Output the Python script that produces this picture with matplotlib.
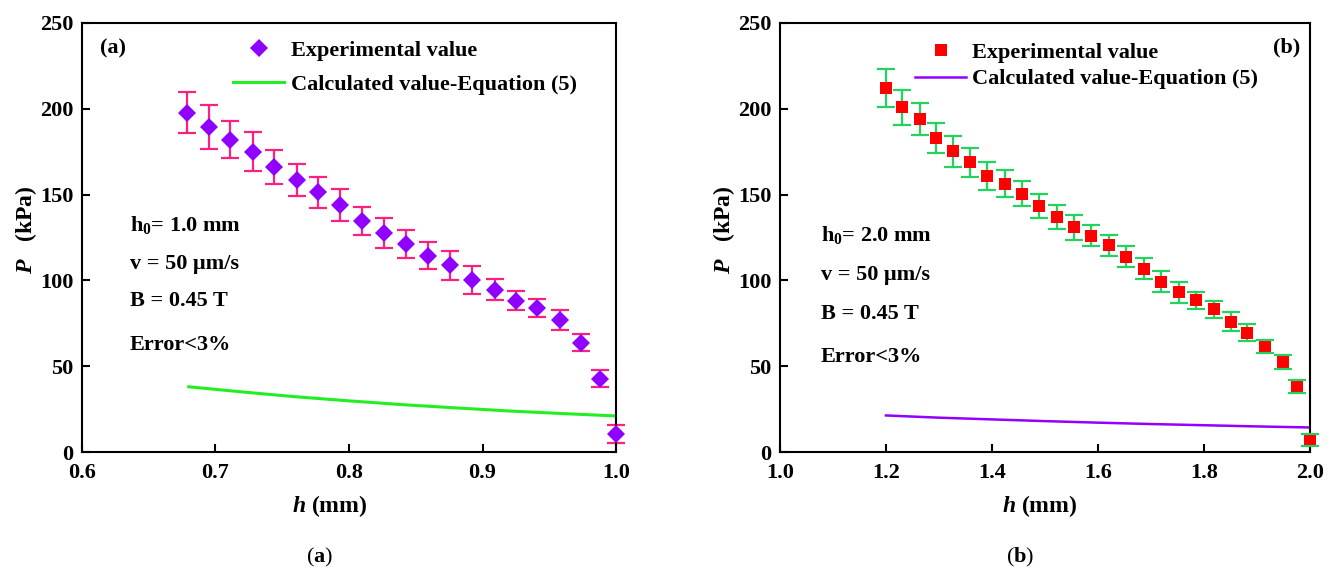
import matplotlib
matplotlib.use("Agg")
import matplotlib.pyplot as plt

plt.rcParams['font.family'] = ['Liberation Serif', 'DejaVu Serif']
plt.rcParams['font.weight'] = 'bold'
plt.rcParams['mathtext.fontset'] = 'custom'
plt.rcParams['mathtext.rm'] = 'Liberation Serif:bold'
plt.rcParams['mathtext.bf'] = 'Liberation Serif:bold'
plt.rcParams['mathtext.it'] = 'Liberation Serif:italic:bold'
plt.rcParams['mathtext.bfit'] = 'Liberation Serif:italic:bold'

# ---------------- data: panel (a) ----------------
h_a = [0.679, 0.695, 0.711, 0.728, 0.744, 0.761, 0.777, 0.793, 0.810, 0.826, 0.843,
       0.859, 0.876, 0.892, 0.909, 0.925, 0.941, 0.958, 0.974, 0.988, 1.000]
P_a = [197.7, 189.3, 182.1, 175.1, 166.0, 158.4, 151.3, 143.9, 134.6, 127.4, 121.4,
       114.4, 108.7, 100.2, 94.6, 88.2, 83.9, 77.1, 63.7, 42.7, 10.5]
err_a = [11.8, 13.0, 11.0, 11.3, 10.0, 9.5, 9.1, 9.4, 8.0, 8.7, 8.2,
         8.0, 8.5, 8.0, 6.0, 5.6, 5.1, 5.9, 5.1, 5.1, 5.0]
hcalc_a = [0.68, 0.72, 0.76, 0.80, 0.84, 0.88, 0.92, 0.96, 1.00]
Pcalc_a = [38.0, 35.0, 32.2, 29.8, 27.6, 25.7, 23.9, 22.4, 21.0]

# ---------------- data: panel (b) ----------------
h_b = [1.200, 1.231, 1.264, 1.295, 1.327, 1.359, 1.391, 1.424, 1.457, 1.489, 1.522, 1.555, 1.587,
       1.620, 1.652, 1.687, 1.719, 1.753, 1.785, 1.819, 1.851, 1.882, 1.916, 1.949, 1.975, 2.000]
P_b = [212.1, 201.0, 194.0, 183.0, 175.2, 168.8, 160.9, 156.3, 150.6, 143.5, 137.1, 130.9, 126.0,
       120.5, 113.9, 106.8, 99.2, 93.0, 88.3, 83.2, 76.0, 69.5, 61.5, 52.3, 38.3, 7.0]
err_b = [11.2, 10.2, 9.2, 8.8, 8.9, 8.4, 8.1, 7.9, 7.1, 7.0, 6.9, 7.1, 6.2,
         6.2, 6.2, 6.2, 6.0, 6.2, 5.1, 5.0, 5.5, 5.0, 4.0, 4.0, 3.7, 3.7]
hcalc_b = [1.2, 1.3, 1.4, 1.5, 1.6, 1.7, 1.8, 1.9, 2.0]
Pcalc_b = [21.3, 20.0, 19.0, 18.0, 17.1, 16.3, 15.6, 14.9, 14.3]

xticks_a = [0.6, 0.7, 0.8, 0.9, 1.0]
xticks_b = [1.0, 1.2, 1.4, 1.6, 1.8, 2.0]
yticks = [0, 50, 100, 150, 200, 250]

fig = plt.figure(figsize=(13.33, 5.70), dpi=100)
ax1 = fig.add_axes([82/1333, 118/570, 534/1333, 429/570])
ax2 = fig.add_axes([780/1333, 118/570, 530/1333, 429/570])

FS = 16

def style(ax, xticks, xlim, xlab_x, ylab_x):
    ax.set_xlim(*xlim)
    ax.set_ylim(0, 250)
    ax.set_xticks(xticks)
    ax.set_xticklabels([f"{t:.1f}" for t in xticks])
    ax.set_yticks(yticks)
    for s in ax.spines.values():
        s.set_linewidth(1.5)
    ax.tick_params(axis='both', direction='in', length=6, width=1.5, labelsize=FS)
    ax.tick_params(axis='x', pad=8)
    ax.tick_params(axis='y', pad=6)
    ax.set_ylabel(r"$\mathbfit{P}$   (kPa)", fontsize=17, fontweight='bold')
    ax.set_xlabel(r"$\mathbfit{h}$ (mm)", fontsize=17, fontweight='bold')
    ax.yaxis.set_label_coords(ylab_x, 0.517)
    ax.xaxis.set_label_coords(xlab_x, -0.095)

# panel (a)
style(ax1, xticks_a, (0.6, 1.0), 0.464, -0.081)
eb = ax1.errorbar(h_a, P_a, yerr=err_a, fmt='none', ecolor='#FF1F7F', elinewidth=1.6,
                  capsize=6.5, capthick=1.6, zorder=2)
for c in eb[1]:
    c.set_clip_on(False)
for c in eb[2]:
    c.set_clip_on(False)
ax1.plot(h_a, P_a, 'D', color='#8F00FF', ms=9.3, mew=0, zorder=3, clip_on=False,
         label='Experimental value')
ax1.plot(hcalc_a, Pcalc_a, '-', color='#22EE22', lw=2.2, zorder=2,
         label='Calculated value-Equation (5)')
ax1.legend(loc='upper left', bbox_to_anchor=(0.283, 0.9595), frameon=False, fontsize=FS,
           borderpad=0, borderaxespad=0, handlelength=2.3, handletextpad=0.32,
           labelspacing=0.59)
ax1.text(0.034, 0.940, "(a)", transform=ax1.transAxes, fontsize=FS, ha='left', va='center')
notes_y_a = [0.528, 0.438, 0.352, 0.249]
notes = [r"h$_\mathbf{0}$= 1.0 mm", "v = 50 μm/s", "B = 0.45 T", "Error<3%"]
for t, y in zip(notes, notes_y_a):
    ax1.text(0.09, y, t, transform=ax1.transAxes, fontsize=FS, ha='left', va='center')

# panel (b)
style(ax2, xticks_b, (1.0, 2.0), 0.49, -0.0815)
eb2 = ax2.errorbar(h_b, P_b, yerr=err_b, fmt='none', ecolor='#22D45E', elinewidth=1.6,
                   capsize=6.5, capthick=1.6, zorder=2)
for c in eb2[1]:
    c.set_clip_on(False)
    c.set_zorder(4)
for c in eb2[2]:
    c.set_clip_on(False)
ax2.plot(h_b, P_b, 's', color='#FF0000', ms=9.3, mew=0, zorder=3, clip_on=False,
         label='Experimental value')
ax2.plot(hcalc_b, Pcalc_b, '-', color='#9400FF', lw=1.8, zorder=2,
         label='Calculated value-Equation (5)')
ax2.legend(loc='upper left', bbox_to_anchor=(0.255, 0.955), frameon=False, fontsize=FS,
           borderpad=0, borderaxespad=0, handlelength=2.3, handletextpad=0.28,
           labelspacing=0.27)
ax2.text(0.981, 0.944, "(b)", transform=ax2.transAxes, fontsize=FS, ha='right', va='center')
notes_y_b = [0.506, 0.413, 0.322, 0.221]
notes_b = [r"h$_\mathbf{0}$= 2.0 mm", "v = 50 μm/s", "B = 0.45 T", "Error<3%"]
for t, y in zip(notes_b, notes_y_b):
    ax2.text(0.077, y, t, transform=ax2.transAxes, fontsize=FS, ha='left', va='center')

# captions
fig.text(320/1333, 13/570, r"($\mathbf{a}$)", fontsize=16, fontweight='normal',
         ha='center', va='center')
fig.text(1020/1333, 13/570, r"($\mathbf{b}$)", fontsize=16, fontweight='normal',
         ha='center', va='center')

fig.savefig("out.png", dpi=100)
